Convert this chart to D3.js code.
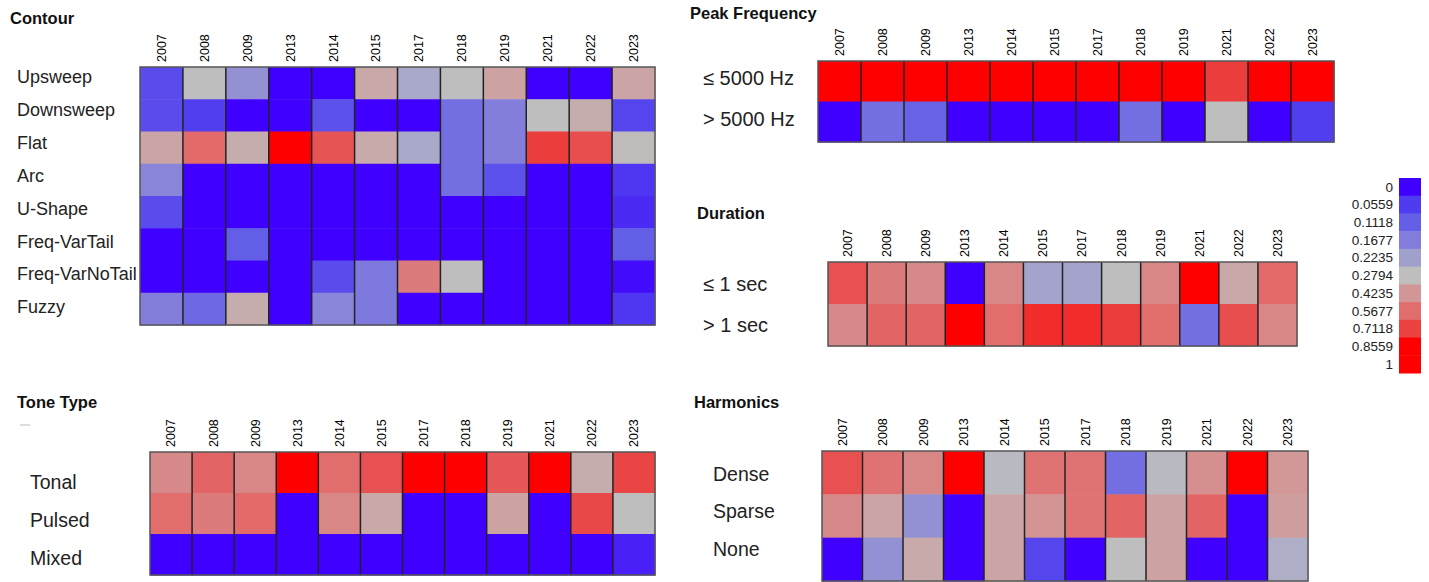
<html lang="en">
<head>
<meta charset="UTF-8">
<title>Call features by year</title>
<script src="https://cdn.jsdelivr.net/npm/d3@7"></script>
<style>
  body { margin: 0; background: #fff; }
  text { font-family: "Liberation Sans", Arial, Helvetica, sans-serif; }
</style>
</head>
<body>
<script>
// years shown as columns in every panel
const years = ["2007","2008","2009","2013","2014","2015","2017","2018","2019","2021","2022","2023"];

const contourRows = ["Upsweep","Downsweep","Flat","Arc","U-Shape","Freq-VarTail","Freq-VarNoTail","Fuzzy"];
const contourValues = [
  [0.08,0.28,0.20,0,0,0.36,0.24,0.28,0.38,0,0,0.37],
  [0.08,0.06,0,0,0.09,0,0,0.14,0.17,0.28,0.34,0.07],
  [0.37,0.58,0.34,1,0.65,0.35,0.24,0.14,0.17,0.72,0.67,0.29],
  [0.18,0,0,0,0,0,0,0.14,0.09,0,0,0.05],
  [0.08,0,0,0,0,0,0,0,0,0,0,0.04],
  [0,0,0.11,0,0,0,0,0,0,0,0,0.11],
  [0,0,0,0,0.08,0.16,0.52,0.28,0,0,0,0.01],
  [0.17,0.13,0.34,0,0.18,0.16,0,0,0,0,0,0.05]
];

const peakRows = ["≤ 5000 Hz","> 5000 Hz"];
const peakValues = [
  [1,1,1,1,1,1,1,1,1,0.72,1,1],
  [0,0.14,0.12,0,0,0,0,0.14,0,0.28,0,0.06]
];

const durationRows = ["≤ 1 sec","> 1 sec"];
const durationValues = [
  [0.66,0.52,0.47,0,0.48,0.23,0.23,0.28,0.48,1,0.36,0.58],
  [0.47,0.60,0.60,1,0.57,0.76,0.76,0.72,0.57,0.14,0.67,0.48]
];

const toneRows = ["Tonal","Pulsed","Mixed"];
const toneValues = [
  [0.47,0.60,0.48,1,0.57,0.66,1,1,0.64,1,0.34,0.70],
  [0.57,0.52,0.58,0,0.48,0.36,0,0,0.38,0,0.69,0.28],
  [0,0,0,0,0,0,0,0,0,0,0,0.03]
];

const harmonicsRows = ["Dense","Sparse","None"];
const harmonicsValues = [
  [0.66,0.55,0.48,1,0.27,0.55,0.55,0.14,0.27,0.45,1,0.42],
  [0.47,0.37,0.20,0,0.37,0.43,0.55,0.60,0.38,0.60,0,0.40],
  [0,0.20,0.35,0,0.37,0.07,0,0.28,0.38,0,0,0.25]
];

const legendTicks = [0,0.0559,0.1118,0.1677,0.2235,0.2794,0.4235,0.5677,0.7118,0.8559,1];
const legendColors = ["#4000ff","#503cf0","#645fe6","#827ddc","#a0a0cd","#bebebe",
                      "#d29696","#e16e6e","#eb4141","#ff0000","#ff0000"];

const W = 1429, H = 582;
const svg = d3.select("body").append("svg")
  .attr("width", W).attr("height", H);

const color = d3.scaleLinear()
  .domain(legendTicks)
  .range(legendColors)
  .clamp(true);

// layout for each panel
const panels = [
  {title:"Contour", rows:contourRows, values:contourValues,
   tx:10, ty:24, x0:140, x1:655, y0:67, y1:325,
   lx:17, ly:[60.5,323.5], fs:18},
  {title:"Peak Frequency", rows:peakRows, values:peakValues,
   tx:690, ty:19, x0:818, x1:1334, y0:61, y1:142,
   lx:703, ly:[57.5,139.5], fs:20},
  {title:"Duration", rows:durationRows, values:durationValues,
   tx:697, ty:219, x0:828, x1:1297, y0:262, y1:346,
   lx:703, ly:[263.5,345.5], fs:20},
  {title:"Tone Type", rows:toneRows, values:toneValues,
   tx:17, ty:408, x0:150, x1:655, y0:452, y1:575,
   lx:30, ly:[463,577], fs:19.5},
  {title:"Harmonics", rows:harmonicsRows, values:harmonicsValues,
   tx:694, ty:408, x0:822, x1:1308, y0:451, y1:581,
   lx:713, ly:[455,568], fs:19.5}
];

panels.forEach(function(p) {
  let g = svg.append("g");
  let x = d3.scaleBand().domain(years).range([p.x0, p.x1]);
  let y = d3.scaleBand().domain(p.rows).range([p.y0, p.y1]);
  let ly = d3.scaleBand().domain(p.rows).range(p.ly);

  g.append("text")
    .attr("x", p.tx).attr("y", p.ty)
    .attr("font-size", 16.5).attr("font-weight", "bold")
    .attr("fill", "#111")
    .text(p.title);

  // cells
  let cells = [];
  p.values.forEach(function(row, i) {
    row.forEach(function(v, j) {
      cells.push({row: p.rows[i], year: years[j], v: v});
    });
  });
  g.selectAll("rect.cell").data(cells).enter()
    .append("rect").attr("class", "cell")
    .attr("x", d => x(d.year))
    .attr("y", d => y(d.row))
    .attr("width", x.bandwidth() + 0.5)
    .attr("height", y.bandwidth() + 0.5)
    .attr("fill", d => color(d.v));

  // column separators
  g.selectAll("line.sep").data(years.slice(1)).enter()
    .append("line").attr("class", "sep")
    .attr("x1", d => x(d)).attr("x2", d => x(d))
    .attr("y1", p.y0).attr("y2", p.y1)
    .attr("stroke", "#222").attr("stroke-width", 1.5);

  g.append("rect")
    .attr("x", p.x0).attr("y", p.y0)
    .attr("width", p.x1 - p.x0).attr("height", p.y1 - p.y0)
    .attr("fill", "none").attr("stroke", "#555").attr("stroke-width", 1.5);

  // year labels
  let ax = g.append("g")
    .attr("transform", "translate(0," + (p.y0 - 5) + ")")
    .call(d3.axisTop(x).tickSize(0).tickPadding(0));
  ax.select(".domain").remove();
  ax.selectAll("text")
    .attr("transform", "rotate(-90)")
    .attr("text-anchor", "start")
    .attr("x", 0).attr("y", 0).attr("dy", "0.35em")
    .attr("font-size", 12.5)
    .attr("font-family", "'Liberation Sans', Arial, sans-serif")
    .attr("fill", "#000");

  // row labels
  g.selectAll("text.rowlab").data(p.rows).enter()
    .append("text").attr("class", "rowlab")
    .attr("x", p.lx)
    .attr("y", d => ly(d) + ly.bandwidth() / 2)
    .attr("dy", "0.35em")
    .attr("font-size", p.fs)
    .attr("fill", "#222")
    .text(d => d);
});

// small stray dash under the Tone Type title
svg.append("line")
  .attr("x1", 20).attr("x2", 30).attr("y1", 425).attr("y2", 425)
  .attr("stroke", "#bbb").attr("stroke-width", 1);

// legend
let lg = svg.append("g");
let legY = d3.scaleBand().domain(legendTicks).range([178, 373]);
lg.selectAll("rect").data(legendTicks).enter()
  .append("rect")
  .attr("x", 1399).attr("y", d => legY(d))
  .attr("width", 22).attr("height", legY.bandwidth() + 0.5)
  .attr("fill", d => color(d));
lg.selectAll("text").data(legendTicks).enter()
  .append("text")
  .attr("x", 1393)
  .attr("y", d => legY(d) + legY.bandwidth() / 2)
  .attr("dy", "0.35em")
  .attr("text-anchor", "end")
  .attr("font-size", 13.5)
  .attr("fill", "#222")
  .text(d => d);
</script>
</body>
</html>
